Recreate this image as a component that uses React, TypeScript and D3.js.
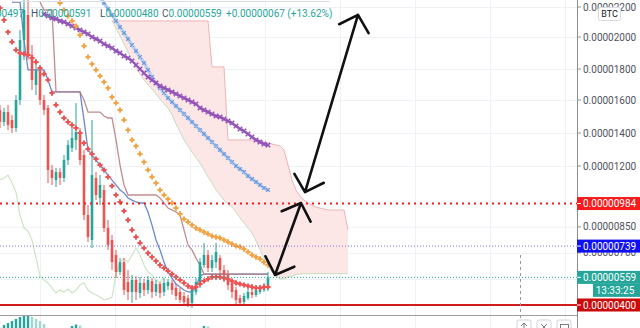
import React from 'react';
import * as d3 from 'd3';

// ---------- data (prices in satoshi, 1e-8 BTC) ----------
const openP = [1539,1467,1527,1479,1430,1600,1981,2147,1888,1697,
  1794,1600,1552,1177,1119,1165,1131,1236,1309,1358,
  1406,1267,918,774,1131,1016,1062,843,774,688,
  590,647,532,475,544,469,527,486,538,475,
  521,475,509,527,498,475,452,440,412,475,
  521,630,688,613,647,670,601,573,527,486,
  440,417,440,475,458,475,486,497];
const highP = [1570,1552,1570,1509,1632,2047,2280,2247,1950,1856,
  1825,1632,1570,1206,1188,1188,1267,1358,1430,1582,
  1430,1297,975,1479,1165,1148,1091,889,803,717,
  670,670,601,573,567,561,550,567,555,544,
  532,555,550,544,521,498,475,458,509,555,
  670,757,717,688,757,688,630,601,544,504,
  458,469,492,492,504,515,527,591];
const lowP = [1430,1442,1418,1400,1406,1570,1856,1856,1665,1632,
  1570,1509,1102,1091,1079,1091,1108,1206,1285,1297,
  1206,889,763,728,1004,975,820,717,601,555,
  573,458,429,412,429,440,452,463,440,452,
  440,452,486,458,429,412,400,388,383,458,
  498,613,590,590,613,573,532,486,440,400,
  394,400,429,440,446,463,475,480];
const closeP = [1467,1527,1448,1430,1600,1981,2180,1888,1729,1794,
  1600,1539,1177,1131,1165,1131,1236,1327,1370,1406,
  1236,918,791,1148,1033,1091,843,745,647,590,
  647,486,475,544,475,527,486,544,475,521,
  469,527,532,486,452,429,417,406,486,532,
  647,688,613,659,705,601,573,515,475,429,
  412,452,475,458,486,498,492,559];

const redMAStart = 0;
const redMA = [2193,2113,2033,1969,1919,1900,1894,1888,1869,1844,
  1806,1768,1729,1645,1570,1527,1491,1467,1448,1430,
  1400,1339,1303,1273,1242,1206,1177,1137,1085,1033,
  993,941,889,832,791,757,728,699,676,653,
  630,613,596,578,561,544,527,509,498,504,
  521,538,550,561,561,561,555,550,538,527,
  521,515,509,504,498,498,504,504];
const orangeMAStart = 14;
const orangeMA = [2280,2227,2180,2140,2107,2073,
  2013,1944,1875,1831,1794,1755,1716,1677,1619,1582,
  1539,1479,1418,1358,1321,1273,1224,1177,1137,1102,
  1062,1033,1010,987,958,924,895,878,860,843,
  832,820,809,797,791,786,774,763,751,740,
  734,722,705,688,676,665,647,630];
const blueMAStart = 25;
const blueMA = [2267,2227,2187,2147,2107,
  2067,2027,1988,1950,1913,1875,1838,1794,1748,1710,
  1677,1645,1613,1588,1564,1539,1515,1491,1467,1442,
  1418,1394,1370,1345,1321,1297,1273,1248,1224,1200,
  1183,1165,1142,1125,1108,1091,1073,1062];
const purpleMAStart = 11;
const purpleMA = [2153,2140,2127,2120,2107,2100,2087,2073,2060,
  2047,2033,2020,2000,1988,1975,1956,1944,1931,1913,
  1900,1881,1869,1850,1825,1800,1774,1748,1729,1710,
  1690,1677,1665,1652,1639,1626,1613,1600,1588,1576,
  1552,1539,1527,1515,1503,1497,1485,1473,1461,1442,
  1424,1412,1394,1376,1358,1345,1333,1327];
const tenkanStart = 3;
const tenkan = [2233,2233,2233,1981,1794,1794,1794,
  1794,1794,1729,1652,1652,1652,1652,1652,1652,1652,
  1652,1479,1297,1267,1236,1206,1177,1148,1119,1091,
  1062,1045,1016,1004,993,987,987,935,860,774,
  717,647,590,555,521,504,486,475,475,504,
  567,578,578,578,578,578,578,578,578,578,
  578,578,578,578,578,578,578,578];
const kijunStart = 10;
const kijun = [2233,2180,2180,2180,1652,1652,1652,1652,1652,1652,
  1652,1600,1527,1527,1527,1527,1503,1491,1491,1358,
  1206,1091,1033,1033,1033,1033,1033,1033,1033,1033,
  1016,987,958,947,935,918,832,745,717,670,
  630,578,578,578,578,578,578,578,578,578,
  578,578,578,578,578,578,578,578];
const chikouStart = 0;
const chikou = [1119,1131,1148,1102,1050,918,843,826,774,670,
  567,544,527,498,469,486,475,492,469,486,
  515,527,486,469,458,446,429,435,446,573,
  647,670,647,688,728,688,630,590,573,544,
  527,561];
const cloudStart = 28;
const senkouA = [2107,2060,
  2007,1956,1906,1856,1806,1768,1729,1697,1671,1639,
  1606,1576,1552,1509,1455,1406,1358,1321,1285,1248,
  1218,1177,1137,1102,1062,1033,1004,981,964,935,
  901,872,843,814,768,717,670,624,590,567,
  550,550,561,567,575,578,580,580,580,580,
  580,580,580,580,580,580,580,580];
const senkouB = [2107,2107,
  2107,2107,2107,2107,2107,2107,2107,2107,2107,2107,
  2107,2107,2107,2107,2107,2107,2107,2107,2107,2107,
  2107,2107,2107,1813,1813,1813,1813,1358,1358,1358,
  1358,1358,1358,1358,1358,1358,1345,1339,1333,1327,
  1321,1297,1206,1119,1062,1027,1004,987,975,964,
  958,952,947,947,947,947,947,832];

const histValues = [0,3,5,7,9,11,12,12,11,9,
  7,4,0,0,0,0,0,0,2,3.5,
  2.5,0,0,0,0,0,0,0,0,0,
  0,0,0,0,0,0,0,0,0,0,
  0,0,0,0,0,0,0,0,0,0,
  0,2,1.5,0,0,0,0,0,0,0,
  0,0,0,0,0,0,0,0];

const priceTicks = [2200, 2000, 1800, 1600, 1400, 1200, 1000, 850, 700, 550, 400];
// tick labels that the price tags fully cover in the reference are not drawn
const hiddenTickLabels = [1000, 550, 400];
const timeGridBars = [10, 28.75, 47.5, 66.25, 85, 103.75, 122.5, 141.25];

const resistanceLevel = 984;
const midLevel = 739;
const supportLevel = 400;
const countdownText = '13:33:25';
const unitLabel = 'BTC';

const arrowUp: [number, number][] = [[76.25, 1050], [89.5, 2147]];
const arrowDown: [number, number][] = [[75.25, 987], [68.75, 573]];

// ---------- component ----------
export default function App() {
  const W = 640, H = 328, plotR = 577, plotB = 315;
  const bull = '#26a69a', bear = '#ef5350';
  const x = d3.scaleLinear().domain([0, 67]).range([0, 268]);
  const y = d3.scaleLinear()
    .domain([400, 1200, 1400, 1600, 1800, 2000, 2200, 2400])
    .range([305, 166, 133, 100, 69, 37, 7, -23]);
  const yh = d3.scaleLinear().domain([0, 12]).range([328, 316]);
  const fmt = (v: number) => (v / 1e8).toFixed(8);

  const pts = (start: number, vals: number[]) =>
    vals.map((v, k) => [x(start + k), y(v)] as [number, number]);
  const line = d3.line<[number, number]>();
  const plus = (p: [number, number][], s: number) =>
    p.map(([a, b]) => `M${a - s},${b}H${a + s}M${a},${b - s}V${b + s}`).join('');
  const cross = (p: [number, number][], s: number) =>
    p.map(([a, b]) => `M${a - s},${b - s}L${a + s},${b + s}M${a - s},${b + s}L${a + s},${b - s}`).join('');

  const cloudArea = d3.area<number>()
    .x((_, k) => x(cloudStart + k))
    .y0((_, k) => y(senkouA[k]))
    .y1((_, k) => y(senkouB[k]));

  const arrowPath = (ends: [number, number][]) => {
    const [x1, y1] = [x(ends[0][0]), y(ends[0][1])];
    const [x2, y2] = [x(ends[1][0]), y(ends[1][1])];
    const len = 21, ang = (47 * Math.PI) / 180;
    const head = (tx: number, ty: number, fx: number, fy: number) => {
      const a = Math.atan2(fy - ty, fx - tx);
      return `M${tx + len * Math.cos(a + ang)},${ty + len * Math.sin(a + ang)}L${tx},${ty}L${tx + len * Math.cos(a - ang)},${ty + len * Math.sin(a - ang)}`;
    };
    return `M${x1},${y1}L${x2},${y2}` + head(x1, y1, x2, y2) + head(x2, y2, x1, y1);
  };

  const last = closeP.length - 1;
  const chg = closeP[last] - closeP[last - 1];
  const pct = (chg / closeP[last - 1]) * 100;

  const redPts = pts(redMAStart, redMA);
  const orangePts = pts(orangeMAStart, orangeMA);
  const bluePts = pts(blueMAStart, blueMA);
  const purplePts = pts(purpleMAStart, purpleMA);

  const tags = [
    { v: resistanceLevel, c: '#f71b1b' },
    { v: midLevel, c: '#1010f5' },
    { v: closeP[last], c: bull },
    { v: supportLevel, c: '#cc0a0a' },
  ];

  const font = 'Roboto, "Noto Sans", sans-serif';

  return (
    <svg width={W} height={H} style={{ position: 'fixed', left: 0, top: 0, background: '#fff' }} fontFamily={font}>
      <defs>
        <clipPath id="plot"><rect x={0} y={0} width={plotR} height={plotB} /></clipPath>
        <clipPath id="pane"><rect x={0} y={plotB + 1} width={plotR} height={H - plotB} /></clipPath>
      </defs>
      <rect x={0} y={0} width={W} height={H} fill="#fff" />

      {/* grid */}
      {priceTicks.map((t) => (
        <line key={'gh' + t} x1={0} x2={plotR} y1={y(t) + 0.5} y2={y(t) + 0.5} stroke="#eef1f6" />
      ))}
      {timeGridBars.map((b) => (
        <line key={'gv' + b} x1={x(b) + 0.5} x2={x(b) + 0.5} y1={0} y2={H} stroke="#eef1f6" />
      ))}

      <g clipPath="url(#plot)">
        {/* ichimoku cloud */}
        <path d={cloudArea(senkouA) || ''} fill="#fde6e6" />
        <path d={line(pts(cloudStart, senkouA)) || ''} fill="none" stroke="#c6dec0" strokeWidth={1} />
        <path d={line(pts(cloudStart, senkouB)) || ''} fill="none" stroke="#eeb5b5" strokeWidth={1} />
        <path d={line(pts(chikouStart, chikou)) || ''} fill="none" stroke="#cde5c6" strokeWidth={1.2} />
        <path d={line(pts(tenkanStart, tenkan)) || ''} fill="none" stroke="#5b7bc7" strokeWidth={1.3} opacity={0.9} />
        <path d={line(pts(kijunStart, kijun)) || ''} fill="none" stroke="#b5797b" strokeWidth={1.3} opacity={0.85} />

        {/* candles */}
        {openP.map((o, i) => {
          const c = closeP[i];
          const col = c >= o ? bull : bear;
          const cx = x(i);
          const top = y(Math.max(o, c));
          const h = Math.max(1, Math.abs(y(o) - y(c)));
          return (
            <g key={'c' + i}>
              <line x1={cx} x2={cx} y1={y(highP[i])} y2={y(lowP[i])} stroke={col} strokeWidth={1} />
              <rect x={cx - 1.3} y={top} width={2.6} height={h} fill={col} />
            </g>
          );
        })}

        {/* moving averages (cross style) */}
        <path d={line(bluePts) || ''} fill="none" stroke="#b8d1f0" strokeWidth={3.5} />
        <path d={cross(bluePts, 1.8)} fill="none" stroke="#6f97d6" strokeWidth={1.2} />
        <path d={line(purplePts) || ''} fill="none" stroke="#a46cc6" strokeWidth={2.4} />
        <path d={cross(purplePts, 2.2)} fill="none" stroke="#9251b8" strokeWidth={1.5} />
        <path d={plus(orangePts, 2.6)} fill="none" stroke="#f6a443" strokeWidth={2} />
        <path d={plus(redPts, 2.6)} fill="none" stroke="#f25252" strokeWidth={2} />

        {/* horizontal levels */}
        <line x1={0} x2={plotR} y1={y(resistanceLevel)} y2={y(resistanceLevel)} stroke="#f21c1c" strokeWidth={2} strokeDasharray="2 4" />
        <line x1={0} x2={plotR} y1={y(midLevel)} y2={y(midLevel)} stroke="#7d73d6" strokeWidth={1} strokeDasharray="1 2" />
        <line x1={0} x2={plotR} y1={y(closeP[last])} y2={y(closeP[last])} stroke={bull} strokeWidth={1} strokeDasharray="1 2" />
        <line x1={0} x2={plotR} y1={y(supportLevel)} y2={y(supportLevel)} stroke="#d01c1c" strokeWidth={2} />

        {/* arrows */}
        <path d={arrowPath(arrowUp)} fill="none" stroke="#111" strokeWidth={2.6} strokeLinecap="round" strokeLinejoin="round" />
        <path d={arrowPath(arrowDown)} fill="none" stroke="#111" strokeWidth={2.6} strokeLinecap="round" strokeLinejoin="round" />
      </g>

      {/* pane separator */}
      <line x1={0} x2={plotR} y1={plotB + 0.5} y2={plotB + 0.5} stroke="#9d9d9d" strokeWidth={1.2} />

      {/* lower pane histogram */}
      <g clipPath="url(#pane)">
        {histValues.map((v, i) => v > 0 ? (
          <rect key={'h' + i} x={x(i) - 1.2} y={yh(v)} width={2.4} height={yh(0) - yh(v)}
            fill={i > 0 && v < histValues[i - 1] ? '#9fd8d2' : bull} />
        ) : null)}
      </g>

      {/* crosshair fragment */}
      <line x1={520.5} x2={520.5} y1={255} y2={H} stroke="#9598a1" strokeDasharray="3 3" />

      {/* bottom buttons */}
      {[517, 537, 557].map((bx, k) => (
        <g key={'btn' + k}>
          <rect x={bx} y={320} width={14} height={14} rx={2} fill="#fff" stroke="#cfd2d8" />
        </g>
      ))}
      <path d="M524,323L521,326M524,323L527,326M524,323V328" stroke="#787b86" strokeWidth={1} fill="none" />
      <path d="M541,324L547,330M547,324L541,330" stroke="#787b86" strokeWidth={1} fill="none" />
      <rect x={560.5} y={324.5} width={8} height={6} fill="none" stroke="#787b86" />

      {/* top toolbar edge */}
      <line x1={13} x2={330} y1={1.5} y2={1.5} stroke="#dadde3" strokeWidth={1} />

      {/* legend */}
      <g fontSize={10}>
        <text x={24} y={17} textAnchor="end">
          <tspan fill="#4c525e">O</tspan><tspan fill={bull}>{fmt(openP[last])}</tspan>
        </text>
        <text x={31} y={17}>
          <tspan fill="#4c525e">H</tspan><tspan fill={bull}>{fmt(highP[last])}</tspan>
        </text>
        <text x={100} y={17}>
          <tspan fill="#4c525e">L</tspan><tspan fill={bull}>{fmt(lowP[last])}</tspan>
        </text>
        <text x={162} y={17}>
          <tspan fill="#4c525e">C</tspan><tspan fill={bull}>{fmt(closeP[last])}</tspan>
        </text>
        <text x={226} y={17} fill={bull}>
          {`+${fmt(chg)} (+${pct.toFixed(2)}%)`}
        </text>
      </g>

      {/* price axis */}
      <rect x={plotR} y={0} width={W - plotR} height={H} fill="#fff" />
      <line x1={plotR + 0.5} x2={plotR + 0.5} y1={0} y2={H} stroke="#8f8f8f" />
      <g fontSize={10} fill="#50535e">
        {priceTicks.map((t) => (
          <g key={'t' + t}>
            <line x1={plotR} x2={plotR + 4} y1={y(t)} y2={y(t)} stroke="#8f8f8f" />
            {hiddenTickLabels.includes(t) ? null : (
              <text x={583} y={y(t)} dy="0.35em">{fmt(t)}</text>
            )}
          </g>
        ))}
      </g>

      {/* price tags */}
      {tags.map((tg, k) => (
        <g key={'tag' + k}>
          <rect x={plotR} y={y(tg.v) - 6.5} width={W - plotR} height={13} fill={tg.c} />
          <line x1={plotR} x2={plotR + 4} y1={y(tg.v)} y2={y(tg.v)} stroke="#fff" />
          <text x={583} y={y(tg.v)} dy="0.35em" fontSize={10} fill="#fff">{fmt(tg.v)}</text>
        </g>
      ))}
      <rect x={593} y={y(closeP[last]) + 6.5} width={W - 593} height={13} fill={bull} />
      <text x={615} y={y(closeP[last]) + 13} dy="0.35em" fontSize={10} fill="#fff" textAnchor="middle">{countdownText}</text>

      {/* unit box */}
      <rect x={598.5} y={7.5} width={22} height={13} rx={2} fill="#fff" stroke="#d6d9de" />
      <text x={609.5} y={14} dy="0.35em" fontSize={9} fill="#131722" textAnchor="middle">{unitLabel}</text>
    </svg>
  );
}
